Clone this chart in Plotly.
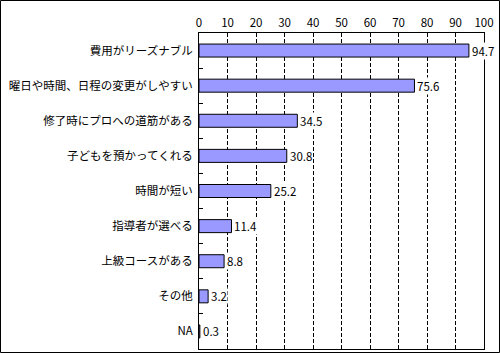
import plotly.graph_objects as go

categories = ["費用がリーズナブル", "曜日や時間、日程の変更がしやすい", "修了時にプロへの道筋がある",
              "子どもを預かってくれる", "時間が短い", "指導者が選べる", "上級コースがある", "その他", "NA"]
values = [94.7, 75.6, 34.5, 30.8, 25.2, 11.4, 8.8, 3.2, 0.3]
tick_vals = [0, 10, 20, 30, 40, 50, 60, 70, 80, 90, 100]

W, H = 500, 353
L, R, T, B = 199, 16, 33, 4
pw, ph = W - L - R, H - T - B

font = "Noto Sans CJK JP"

fig = go.Figure(go.Bar(
    x=values, y=categories, orientation="h",
    marker=dict(color="#9999FF", line=dict(color="black", width=1)),
    width=0.37,
))

for c, v in zip(categories, values):
    fig.add_annotation(x=v, y=c, xref="x", yref="y", text=f"{v}", showarrow=False,
                       xanchor="left", yanchor="middle", xshift=2,
                       bgcolor="white", borderpad=0,
                       font=dict(family=font, size=11.5, color="black"))

fig.update_layout(
    width=W, height=H, margin=dict(l=L, r=R, t=T, b=B, autoexpand=False),
    paper_bgcolor="white", plot_bgcolor="white",
    showlegend=False,
    font=dict(family=font, size=12, color="black"),
    xaxis=dict(range=[0, 100], side="top", tickvals=tick_vals,
               showgrid=True, gridcolor="black", griddash="4px,2px", gridwidth=1,
               showline=True, linecolor="black", linewidth=1, mirror=True,
               ticks="inside", ticklen=4, tickcolor="black", automargin=False,
               tickfont=dict(family=font, size=11.5), zeroline=False, fixedrange=True),
    yaxis=dict(autorange="reversed", showline=True, linecolor="black", linewidth=1, mirror=True,
               ticks="inside", ticklen=4, tickcolor="black", tickson="boundaries",
               automargin=False,
               showgrid=False, tickfont=dict(family=font, size=11.5), ticklabelstandoff=3),
    shapes=[dict(type="rect", xref="paper", yref="paper",
                 x0=(0.5 - L) / pw, x1=(W - 0.5 - L) / pw,
                 y0=-(B - 0.5) / ph, y1=(H - B - 0.5) / ph,
                 line=dict(color="black", width=1), fillcolor="rgba(0,0,0,0)", layer="above")],
)

fig.write_html("out.html")
